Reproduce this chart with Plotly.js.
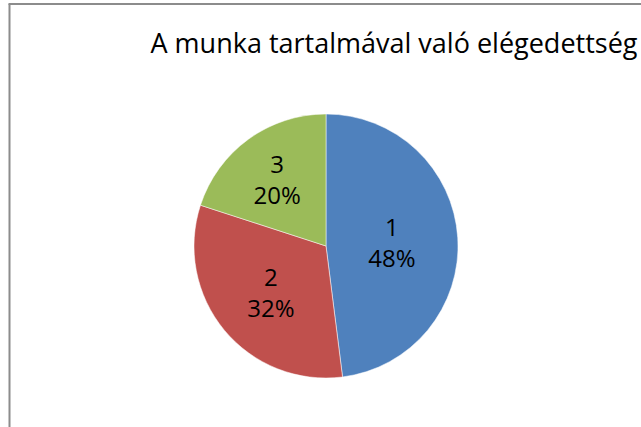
<!DOCTYPE html>
<html>
<head>
<meta charset="utf-8">
<script src="https://cdn.plot.ly/plotly-3.0.1.min.js"></script>
<style>
html,body{margin:0;padding:0;background:#fff;}
#chart{width:641px;height:427px;}
</style>
</head>
<body>
<div id="chart"></div>
<script>
const labels = ["1", "2", "3"];
const values = [48, 32, 20];
const colors = ["#4F81BD", "#C0504D", "#9BBB59"];
const titleText = "A munka tartalmával való elégedettség";

const W = 641, H = 427;
const cx = 326, cy = 246, r = 132;

const trace = {
  type: "pie",
  labels: labels,
  values: values,
  sort: false,
  direction: "clockwise",
  rotation: 0,
  marker: {colors: colors, line: {color: "#ffffff", width: 0.5}},
  textinfo: "label+percent",
  textposition: "inside",
  insidetextorientation: "horizontal",
  texttemplate: "%{label}<br>%{percent:.0%}",
  textfont: {family: "Open Sans, Liberation Sans, sans-serif", size: 24, color: "#000000"},
  hoverinfo: "none",
  showlegend: false,
  domain: {x: [(cx - r) / W, (cx + r) / W], y: [1 - (cy + r) / H, 1 - (cy - r) / H]}
};

const layout = {
  width: W, height: H,
  margin: {l: 0, r: 0, t: 0, b: 0},
  paper_bgcolor: "#ffffff",
  showlegend: false,
  title: {
    text: titleText,
    font: {family: "Open Sans, Liberation Sans, sans-serif", size: 27, color: "#000000"},
    x: 394 / W, xanchor: "center",
    y: 1 - 44 / H, yanchor: "middle"
  },
  shapes: [
    {type: "line", xref: "paper", yref: "paper", x0: 9.5 / W, x1: 9.5 / W, y0: 0, y1: 1 - 4 / H,
     line: {color: "#8c8c8c", width: 2}},
    {type: "line", xref: "paper", yref: "paper", x0: 8.5 / W, x1: 1, y0: 1 - 4 / H, y1: 1 - 4 / H,
     line: {color: "#8c8c8c", width: 2}}
  ]
};

Plotly.newPlot("chart", [trace], layout, {displayModeBar: false, staticPlot: true});
</script>
</body>
</html>
